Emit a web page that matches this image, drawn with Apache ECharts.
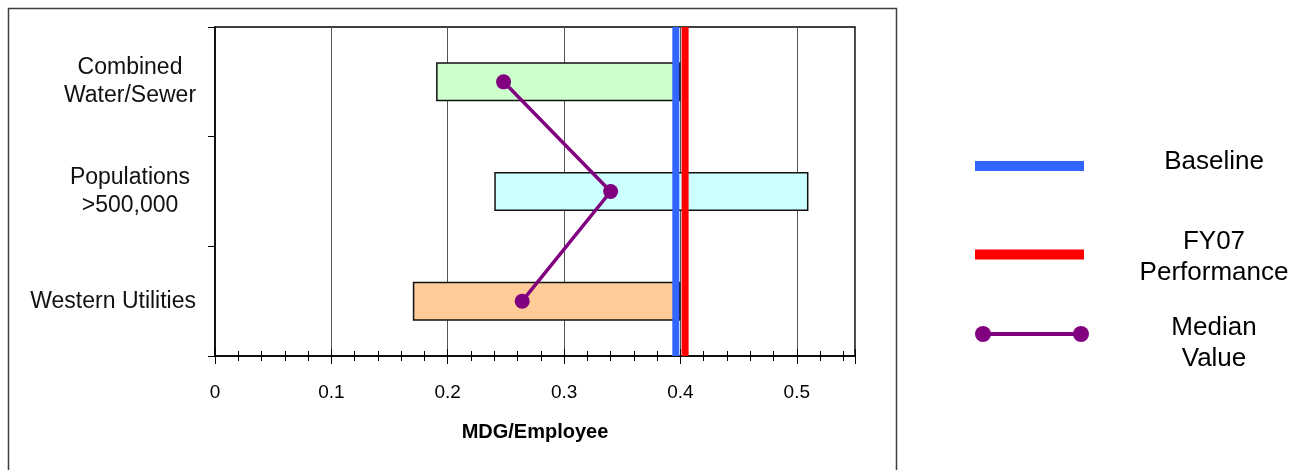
<!DOCTYPE html>
<html>
<head>
<meta charset="utf-8">
<title>MDG/Employee</title>
<script src="https://cdn.jsdelivr.net/npm/echarts@6/dist/echarts.min.js"></script>
<style>
  html, body { margin: 0; padding: 0; background: #fff; }
  #chart { width: 1294px; height: 470px; }
</style>
</head>
<body>
<div id="chart"></div>
<script>
// Peer-group ranges, medians and the utility's own figures (MDG per employee)
const categories = ['Combined\nWater/Sewer', 'Populations\n>500,000', 'Western Utilities'];
const rangeLow = [0.19, 0.24, 0.17];
const rangeHigh = [0.40, 0.51, 0.40];
const medians = [0.248, 0.340, 0.264];
const baselineValue = 0.396;
const fy07Value = 0.404;
const barColors = ['#CCFFCC', '#CCFFFF', '#FFCC99'];
const xTicks = { min: 0, max: 0.55, interval: 0.1 };
const legendNames = ['Baseline', 'FY07\nPerformance', 'Median\nValue'];

const FONT = '"Liberation Sans", Arial, sans-serif';
const BLUE = '#3366FF', RED = '#FF0000', PURPLE = '#800080';

const chart = echarts.init(document.getElementById('chart'), null, { renderer: 'canvas' });

// Two-line category labels are centred line by line, single-line ones are plain
function catLabel(v) {
  if (v.indexOf('\n') < 0) return v;
  return v.split('\n').map(s => '{c|' + s + '}').join('\n');
}

const baseAxis = {
  type: 'value',
  min: xTicks.min,
  max: xTicks.max,
  interval: xTicks.interval,
  position: 'bottom'
};

// A full-height vertical reference line at a given x value (on the hidden 0..1 axis)
function refLine(name, value, color) {
  return {
    name: name,
    type: 'line',
    xAxisIndex: 0,
    yAxisIndex: 1,
    z: 4,
    silent: true,
    symbol: 'none',
    lineStyle: { color: color, width: 7, cap: 'butt' },
    data: [[value, 0], [value, 1]]
  };
}

// Legend drawn beside the frame
const legendY = [166, 254.5, 334];
const legendTextY = [162, 257, 343];
const legendGraphics = [];
legendNames.forEach((name, i) => {
  if (i === 2) {
    legendGraphics.push({
      type: 'line', shape: { x1: 983, y1: legendY[i], x2: 1081, y2: legendY[i] },
      style: { stroke: PURPLE, lineWidth: 4 }
    });
    [983, 1081].forEach(cx => legendGraphics.push({
      type: 'circle', shape: { cx: cx, cy: legendY[i], r: 8 }, style: { fill: PURPLE }
    }));
  } else {
    legendGraphics.push({
      type: 'line', shape: { x1: 975, y1: legendY[i], x2: 1084, y2: legendY[i] },
      style: { stroke: i === 0 ? BLUE : RED, lineWidth: 10 }
    });
  }
  legendGraphics.push({
    type: 'text', x: 1214, y: legendTextY[i],
    style: {
      text: name, fill: '#000', font: '26px ' + FONT,
      align: 'center', verticalAlign: 'middle', lineHeight: 31
    }
  });
});

const option = {
  backgroundColor: '#fff',
  animation: false,
  textStyle: { fontFamily: FONT },
  grid: {
    left: 215, right: 439, top: 27, bottom: 114,
    show: true, borderColor: '#000', borderWidth: 1.5
  },
  xAxis: [
    Object.assign({}, baseAxis, {
      name: 'MDG/Employee',
      nameLocation: 'middle',
      nameGap: 66,
      nameTextStyle: { fontFamily: FONT, fontSize: 20, fontWeight: 'bold', color: '#000' },
      axisLine: { show: true, lineStyle: { color: '#000', width: 1.5 } },
      axisTick: { show: true, length: 8, lineStyle: { color: '#000', width: 1 } },
      minorTick: { show: true, splitNumber: 5, length: 5, lineStyle: { color: '#000', width: 1 } },
      axisLabel: {
        margin: 27, color: '#000', fontSize: 19, fontFamily: FONT,
        showMaxLabel: false,
        formatter: v => String(Math.round(v * 10) / 10)
      },
      splitLine: { show: true, lineStyle: { color: '#555', width: 1 } }
    }),
    // Inner half of the crossing ticks
    Object.assign({}, baseAxis, {
      axisLine: { show: false },
      axisTick: { show: true, inside: true, length: 7, lineStyle: { color: '#000', width: 1 } },
      minorTick: { show: true, splitNumber: 5, length: 5, lineStyle: { color: '#000', width: 1 } },
      axisLabel: { show: false },
      splitLine: { show: false }
    })
  ],
  yAxis: [
    {
      type: 'category',
      data: categories,
      inverse: true,
      axisLine: { show: true, lineStyle: { color: '#000', width: 1.5 } },
      axisTick: { show: true, length: 7, lineStyle: { color: '#000', width: 1 } },
      splitLine: { show: false },
      axisLabel: {
        margin: 19, color: '#111', fontSize: 23, fontFamily: FONT,
        lineHeight: 28, align: 'right',
        formatter: catLabel,
        rich: { c: { width: 132, align: 'center', fontSize: 23, fontFamily: FONT, color: '#111', lineHeight: 28 } }
      }
    },
    // Hidden 0..1 scale spanning the plot height, for the reference lines
    { type: 'value', min: 0, max: 1, show: false }
  ],
  graphic: [
    {
      type: 'rect', shape: { x: 8.5, y: 8.5, width: 888, height: 480 },
      style: { fill: 'none', stroke: '#404040', lineWidth: 1.5 }, silent: true, z: -1
    }
  ].concat(legendGraphics),
  series: [
    {
      name: 'low',
      type: 'bar',
      stack: 'range',
      barWidth: 39,
      silent: true,
      itemStyle: { color: 'transparent' },
      data: rangeLow
    },
    {
      name: 'range',
      type: 'bar',
      stack: 'range',
      barWidth: 39,
      data: rangeHigh.map((h, i) => ({
        value: +(h - rangeLow[i]).toFixed(3),
        itemStyle: { color: barColors[i], borderColor: '#111', borderWidth: 1.5 }
      }))
    },
    refLine('Baseline', baselineValue, BLUE),
    refLine('FY07 Performance', fy07Value, RED),
    {
      name: 'Median Value',
      type: 'line',
      z: 5,
      symbol: 'circle',
      symbolSize: 15,
      itemStyle: { color: PURPLE },
      lineStyle: { color: PURPLE, width: 3.5 },
      data: medians.map((m, i) => [m, categories[i]])
    }
  ]
};

chart.setOption(option);
</script>
</body>
</html>
